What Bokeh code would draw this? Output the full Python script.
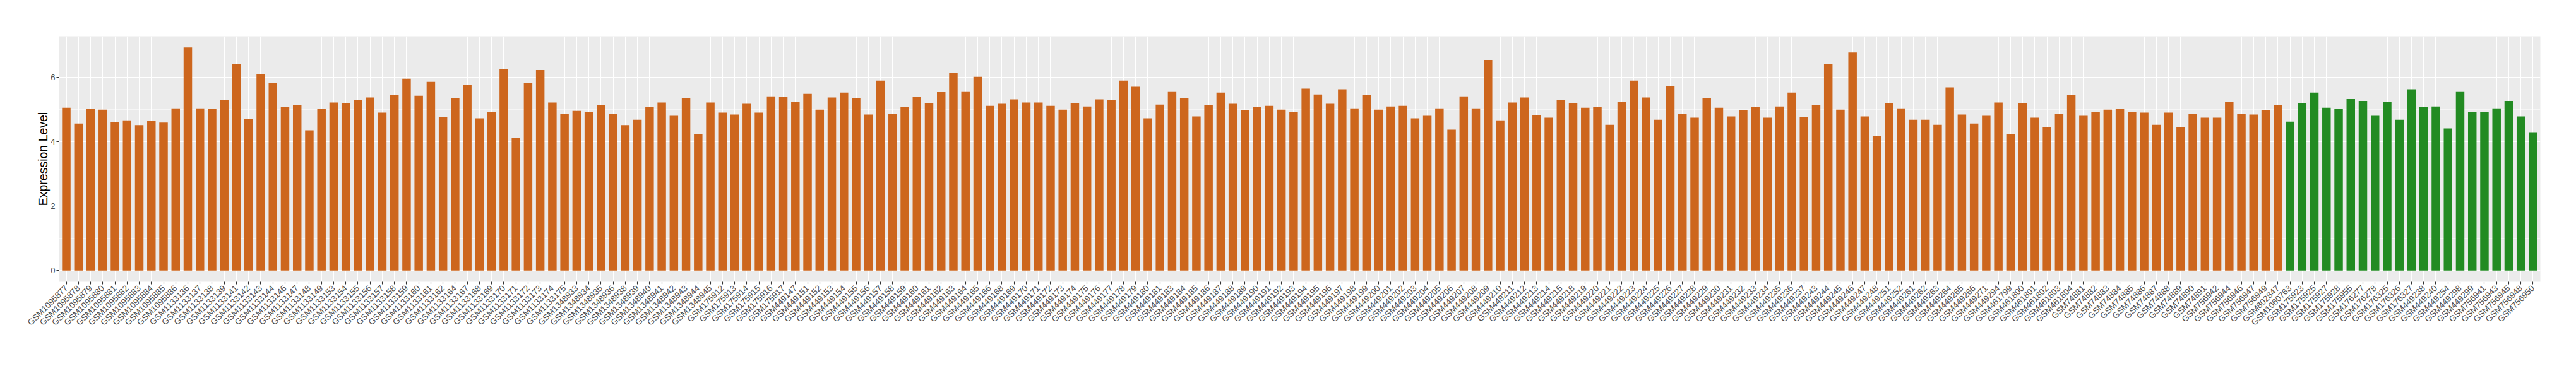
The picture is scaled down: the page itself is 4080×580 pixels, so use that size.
import math
from bokeh.plotting import figure
from bokeh.models import ColumnDataSource, Range1d, FixedTicker
from bokeh.embed import file_html
from bokeh.resources import INLINE

# ---- data ----
samples_a = [
    "GSM1095877", "GSM1095878", "GSM1095879", "GSM1095880", "GSM1095881", "GSM1095882", "GSM1095883",
    "GSM1095884", "GSM1095885", "GSM1095886",
    "GSM1133136", "GSM1133137", "GSM1133138", "GSM1133139", "GSM1133141", "GSM1133142", "GSM1133143",
    "GSM1133144", "GSM1133146", "GSM1133147", "GSM1133148", "GSM1133149", "GSM1133153", "GSM1133154",
    "GSM1133155", "GSM1133156", "GSM1133157", "GSM1133158", "GSM1133159", "GSM1133160", "GSM1133161",
    "GSM1133162", "GSM1133164", "GSM1133167", "GSM1133168", "GSM1133169", "GSM1133170", "GSM1133171",
    "GSM1133172", "GSM1133173", "GSM1133174", "GSM1133175",
    "GSM1348933", "GSM1348934", "GSM1348935", "GSM1348936", "GSM1348938", "GSM1348939", "GSM1348940",
    "GSM1348941", "GSM1348942", "GSM1348943", "GSM1348944", "GSM1348945",
    "GSM175912", "GSM175913", "GSM175914", "GSM175915", "GSM175916", "GSM175917",
    "GSM449147", "GSM449151", "GSM449152", "GSM449153", "GSM449154", "GSM449155", "GSM449156",
    "GSM449157", "GSM449158", "GSM449159", "GSM449160", "GSM449161", "GSM449162", "GSM449163",
    "GSM449164", "GSM449165", "GSM449166", "GSM449168", "GSM449169", "GSM449170", "GSM449171",
    "GSM449172", "GSM449173", "GSM449174", "GSM449175", "GSM449176", "GSM449177", "GSM449178",
    "GSM449179", "GSM449180", "GSM449181", "GSM449183", "GSM449184", "GSM449185", "GSM449186",
    "GSM449187", "GSM449188", "GSM449189", "GSM449190", "GSM449191", "GSM449192", "GSM449193",
    "GSM449194", "GSM449195", "GSM449196", "GSM449197", "GSM449198", "GSM449199", "GSM449200",
    "GSM449201", "GSM449202", "GSM449203", "GSM449204", "GSM449205", "GSM449206", "GSM449207",
    "GSM449208", "GSM449209", "GSM449210", "GSM449211", "GSM449212", "GSM449213", "GSM449214",
    "GSM449215", "GSM449218", "GSM449219", "GSM449220", "GSM449221", "GSM449222", "GSM449223",
    "GSM449224", "GSM449225", "GSM449226", "GSM449227", "GSM449228", "GSM449229", "GSM449230",
    "GSM449231", "GSM449232", "GSM449233", "GSM449234", "GSM449235", "GSM449236", "GSM449237",
    "GSM449243", "GSM449244", "GSM449245", "GSM449246", "GSM449247", "GSM449248", "GSM449251",
    "GSM449252", "GSM449261", "GSM449262", "GSM449263", "GSM449264", "GSM449265", "GSM449266",
    "GSM449271", "GSM449294",
    "GSM461799", "GSM461800", "GSM461801", "GSM461802", "GSM461803", "GSM461804",
    "GSM74881", "GSM74882", "GSM74883", "GSM74884", "GSM74885", "GSM74886", "GSM74887",
    "GSM74888", "GSM74889", "GSM74890", "GSM74891",
    "GSM756942", "GSM756944", "GSM756946", "GSM756947", "GSM756949",
    "GSM802847",
]
values_a = [
    5.05, 4.56, 5.01, 4.99, 4.60, 4.66, 4.51, 4.64, 4.59, 5.03,
    6.92, 5.03, 5.01, 5.29, 6.40, 4.70, 6.10, 5.81, 5.07, 5.13, 4.35, 5.01, 5.21, 5.18,
    5.29, 5.37, 4.90, 5.44, 5.95, 5.42, 5.85, 4.76, 5.34, 5.75, 4.72, 4.93, 6.24, 4.12,
    5.81, 6.22, 5.21, 4.87,
    4.95, 4.91, 5.13, 4.85, 4.51, 4.68, 5.07, 5.21, 4.80, 5.34, 4.23, 5.21,
    4.90, 4.84, 5.17, 4.90, 5.40, 5.38,
    5.24, 5.48, 4.99, 5.37, 5.52, 5.34, 4.84, 5.89, 4.87, 5.07, 5.38, 5.18, 5.54, 6.14,
    5.56, 6.01, 5.11, 5.17, 5.31, 5.21, 5.21, 5.11, 4.99, 5.18, 5.09, 5.31, 5.29, 5.89,
    5.70, 4.72, 5.15, 5.56, 5.34, 4.78, 5.13, 5.52, 5.17, 4.98, 5.07, 5.11, 4.99, 4.93,
    5.64, 5.46, 5.17, 5.62, 5.03, 5.44, 4.99, 5.09, 5.11, 4.72, 4.80, 5.03, 4.37, 5.40,
    5.03, 6.53, 4.66, 5.21, 5.37, 4.82, 4.74, 5.29, 5.18, 5.05, 5.07, 4.52, 5.24, 5.89,
    5.37, 4.68, 5.73, 4.85, 4.74, 5.34, 5.05, 4.78, 4.98, 5.07, 4.74, 5.09, 5.52, 4.76,
    5.13, 6.40, 4.99, 6.76, 4.78, 4.18, 5.18, 5.03, 4.68, 4.68, 4.52, 5.68, 4.84, 4.56,
    4.80, 5.21,
    4.23, 5.18, 4.74, 4.45, 4.85, 5.44,
    4.80, 4.91, 4.99, 5.01, 4.93, 4.90, 4.52, 4.90, 4.46, 4.87, 4.74,
    4.74, 5.23, 4.85, 4.84, 4.98,
    5.13,
]
samples_b = [
    "GSM1060763", "GSM175923", "GSM175925", "GSM175927", "GSM175928", "GSM175955", "GSM176277",
    "GSM176278", "GSM176325", "GSM176326", "GSM176327", "GSM449238", "GSM449240", "GSM449254",
    "GSM449298", "GSM449299", "GSM756941", "GSM756943", "GSM756945", "GSM756948", "GSM756950",
]
values_b = [
    4.62, 5.18, 5.52, 5.05, 5.01, 5.32, 5.26, 4.80, 5.24, 4.68, 5.62, 5.07, 5.09, 4.41,
    5.56, 4.93, 4.91, 5.03, 5.26, 4.78, 4.29,
]
y_ticks = [0, 2, 4, 6]
y_minor = [1, 3, 5, 7]

# ---- layout ----
all_samples = samples_a + samples_b
n = len(all_samples)
xa = [i + 1 for i in range(len(samples_a))]
xb = [len(samples_a) + i + 1 for i in range(len(samples_b))]
ymax = max(values_a + values_b)

p = figure(width=4064, height=564, output_backend="svg", toolbar_location=None,
           x_range=Range1d(0.4, n + 0.6), y_range=Range1d(-0.05 * ymax, 1.05 * ymax),
           min_border_left=93, min_border_right=41, min_border_top=57, min_border_bottom=118)
p.background_fill_color = "#EBEBEB"
p.border_fill_color = "white"
p.outline_line_color = None

src_a = ColumnDataSource(dict(x=xa, top=values_a))
src_b = ColumnDataSource(dict(x=xb, top=values_b))
p.vbar(x="x", top="top", bottom=0, width=0.7, source=src_a, fill_color="#CD661D", line_color=None)
p.vbar(x="x", top="top", bottom=0, width=0.7, source=src_b, fill_color="#228B22", line_color=None)

# grid
p.xgrid.ticker = FixedTicker(ticks=list(range(1, n + 1)))
p.xgrid.grid_line_color = "white"
p.xgrid.grid_line_width = 1.1
p.ygrid.ticker = FixedTicker(ticks=y_ticks, minor_ticks=y_minor)
p.ygrid.grid_line_color = "white"
p.ygrid.grid_line_width = 1.1
p.ygrid.minor_grid_line_color = "white"
p.ygrid.minor_grid_line_width = 0.55
p.grid.level = "underlay"

# axes
p.xaxis.ticker = FixedTicker(ticks=list(range(1, n + 1)))
p.xaxis.major_label_overrides = {i + 1: s for i, s in enumerate(all_samples)}
p.xaxis.major_label_orientation = math.pi / 4
p.yaxis.ticker = FixedTicker(ticks=y_ticks)
for ax in (p.xaxis[0], p.yaxis[0]):
    ax.axis_line_color = None
    ax.major_tick_line_color = "#333333"
    ax.major_tick_line_width = 1.1
    ax.major_tick_out = 4
    ax.major_tick_in = 0
    ax.minor_tick_line_color = None
    ax.major_label_text_font = "Liberation Sans"
    ax.major_label_text_font_size = "13px"
    ax.major_label_text_color = "#4D4D4D"
    ax.major_label_standoff = 2
p.xaxis.major_label_text_font_size = "13.5px"
p.xaxis.major_label_standoff = 4

p.yaxis.axis_label = "Expression Level"
p.yaxis.axis_label_text_font = "Liberation Sans"
p.yaxis.axis_label_text_font_size = "19.5px"
p.yaxis.axis_label_text_font_style = "normal"
p.yaxis.axis_label_text_color = "black"
p.yaxis.axis_label_standoff = -2

open("out.html", "w").write(file_html(p, INLINE))
